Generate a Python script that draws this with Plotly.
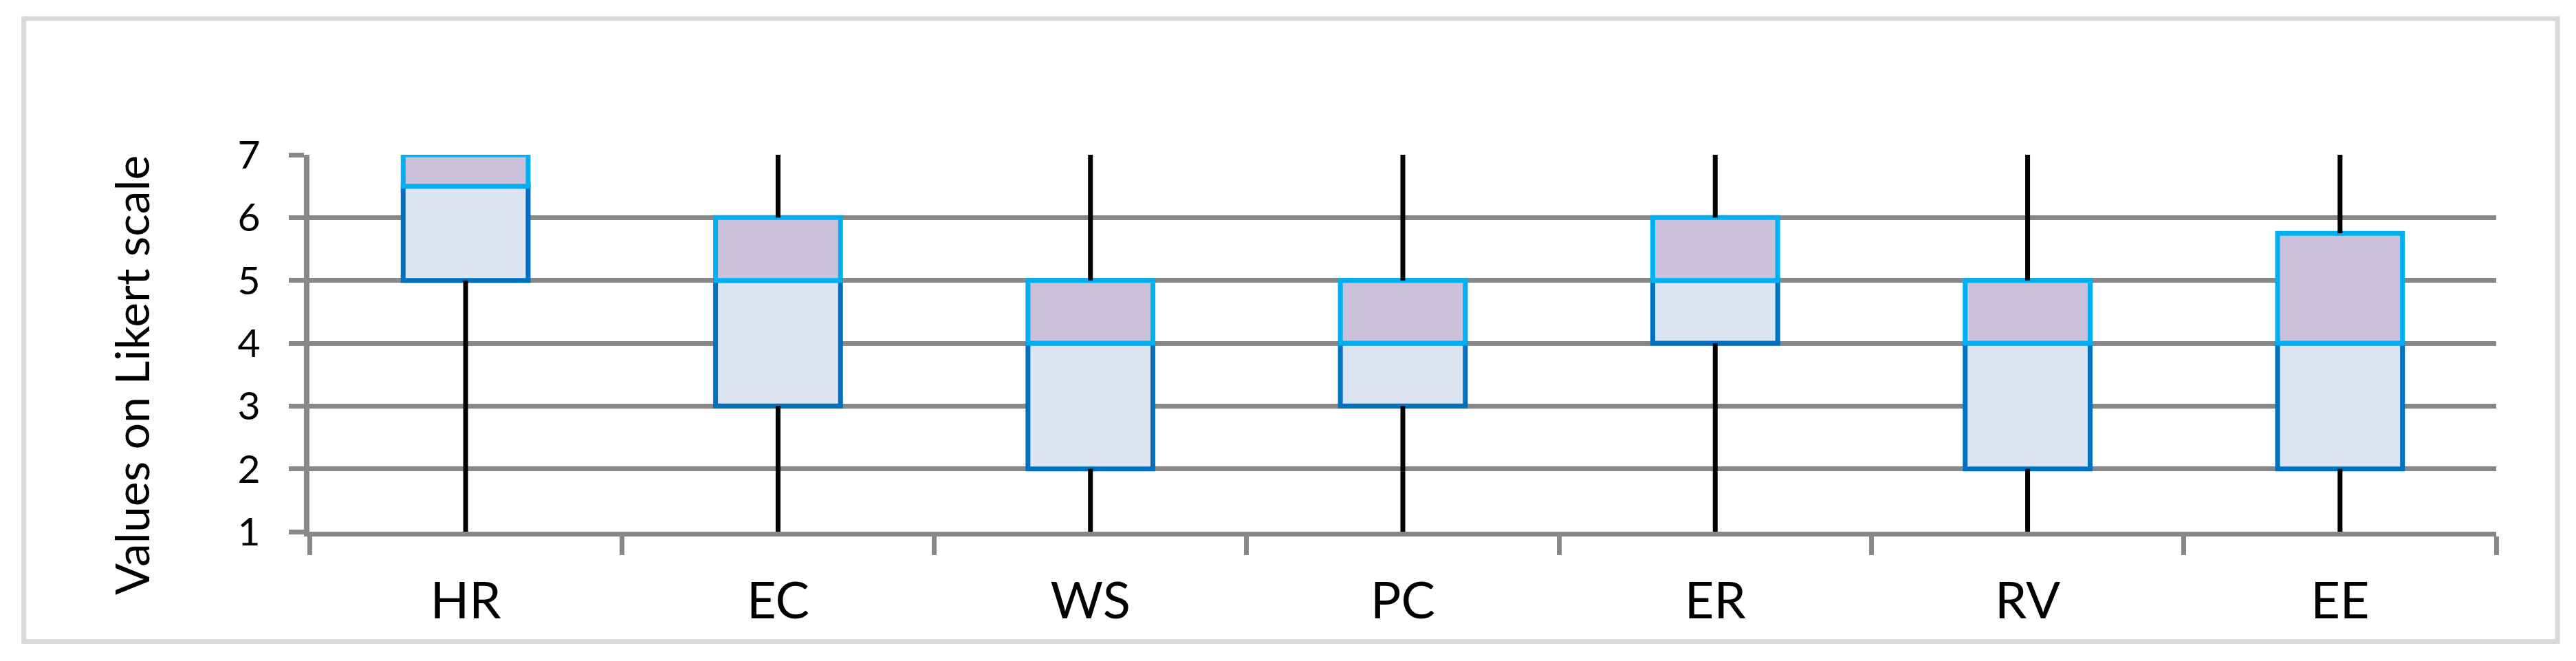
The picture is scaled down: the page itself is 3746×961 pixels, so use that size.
import plotly.graph_objects as go

# five-number summary per construct (Likert 1-7)
categories = ["HR", "EC", "WS", "PC", "ER", "RV", "EE"]
mins = [1, 1, 1, 1, 1, 1, 1]
q1 = [5, 3, 2, 3, 4, 2, 2]
medians = [6.5, 5, 4, 4, 5, 4, 4]
q3 = [7, 6, 5, 5, 6, 5, 5.75]
maxs = [7, 7, 7, 7, 7, 7, 7]
y_ticks = [1, 2, 3, 4, 5, 6, 7]
y_title = "Values on Likert scale"

W, H = 3746, 961
L, R, T, B = 442, 124, 217, 196
PW, PH = W - L - R, H - T - B
GRID = "#888888"
FONT = "Lato"

fig = go.Figure()

# whiskers first (min->q1, q3->max)
wx, wy = [], []
for c, lo, a, b, hi in zip(categories, mins, q1, q3, maxs):
    wx += [c, c, None, c, c, None]
    wy += [lo, a, None, b, hi, None]
fig.add_trace(go.Scatter(x=wx, y=wy, mode="lines", line=dict(color="black", width=7),
                         cliponaxis=False, showlegend=False, hoverinfo="skip"))

# lower half of box: q1 -> median
fig.add_trace(go.Bar(x=categories, y=[m - a for m, a in zip(medians, q1)], base=q1,
                     width=0.4, marker=dict(color="#dce6f2", line=dict(color="#0070c0", width=7)),
                     cliponaxis=False, showlegend=False))
# upper half of box: median -> q3
fig.add_trace(go.Bar(x=categories, y=[b - m for b, m in zip(q3, medians)], base=medians,
                     width=0.4, marker=dict(color="#ccc1da", line=dict(color="#00b0f0", width=7)),
                     cliponaxis=False, showlegend=False))

def px_x(p):
    return (p - L) / PW

def px_y(p):
    return (H - B - p) / PH

fig.add_annotation(text=y_title, textangle=-90, showarrow=False,
                   xref="paper", yref="paper", x=px_x(182), y=px_y(538),
                   xanchor="center", yanchor="middle",
                   font=dict(family=FONT, size=68, color="black"))

# outer chart frame
fig.add_shape(type="rect", xref="paper", yref="paper",
              x0=px_x(26.5), x1=px_x(3711), y0=px_y(924.5), y1=px_y(19),
              line=dict(color="#d9d9d9", width=7), fillcolor="rgba(0,0,0,0)", layer="below")

fig.update_layout(
    width=W, height=H,
    margin=dict(l=L, r=R, t=T, b=B, autoexpand=False),
    paper_bgcolor="white", plot_bgcolor="white",
    barmode="overlay",
    font=dict(family=FONT, color="black"),
    xaxis=dict(type="category", categoryorder="array", categoryarray=categories,
               range=[-0.5, len(categories) - 0.5], automargin=False,
               showgrid=False, showline=True, linecolor=GRID, linewidth=7,
               ticks="outside", tickson="boundaries", ticklen=27, tickwidth=7, tickcolor=GRID,
               ticklabelstandoff=30, tickfont=dict(family=FONT, size=74, color="black")),
    yaxis=dict(range=[1, 7], tickvals=y_ticks, showgrid=True, gridcolor=GRID, gridwidth=7,
               zeroline=False, showline=True, linecolor=GRID, linewidth=8, automargin=False,
               ticks="outside", ticklen=22, tickwidth=7, tickcolor=GRID,
               ticklabelstandoff=30, tickfont=dict(family=FONT, size=57, color="black")),
)

fig.write_html("out.html")
